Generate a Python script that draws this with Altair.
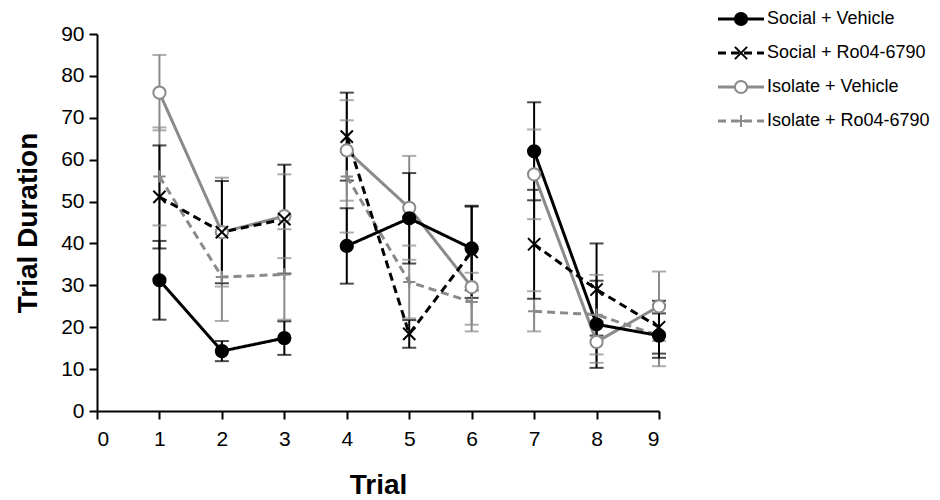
import altair as alt
import pandas as pd

series = ["Social + Vehicle", "Social + Ro04-6790", "Isolate + Vehicle", "Isolate + Ro04-6790"]
trials = [1, 2, 3, 4, 5, 6, 7, 8, 9]
blocks = [1, 1, 1, 2, 2, 2, 3, 3, 3]

social_veh = [31.2, 14.3, 17.4, 39.4, 46.0, 38.8, 62.0, 20.7, 18.0]
social_veh_err = [9.4, 2.4, 4.0, 9.0, 10.8, 10.0, 11.7, 10.4, 5.3]
social_ro = [51.1, 42.7, 45.8, 65.5, 18.4, 38.0, 39.8, 29.0, 20.0]
social_ro_err = [12.3, 12.2, 13.0, 10.5, 3.3, 11.0, 13.0, 11.0, 6.3]
isolate_veh = [76.0, 42.7, 46.5, 62.2, 48.5, 29.6, 56.5, 16.5, 25.0]
isolate_veh_err = [9.0, 13.0, 10.0, 12.0, 12.4, 9.0, 10.7, 5.0, 8.3]
isolate_ro = [56.0, 32.0, 32.6, 56.0, 30.8, 26.0, 23.8, 23.0, 18.0]
isolate_ro_err = [11.7, 10.5, 10.8, 13.4, 8.7, 7.0, 4.8, 9.5, 7.3]

means = [social_veh, social_ro, isolate_veh, isolate_ro]
errs = [social_veh_err, social_ro_err, isolate_veh_err, isolate_ro_err]

BLACK = "#000000"
GRAY = "#8a8a8a"
colors = [BLACK, BLACK, GRAY, GRAY]
fills = [BLACK, "transparent", "#ffffff", "transparent"]
dashes = [[1, 0], [8, 5], [1, 0], [8, 5]]
XPATH = "M-1,-1L1,1M-1,1L1,-1"
PLUS = "M-1,0L1,0M0,-1L0,1"
shapes = ["circle", XPATH, "circle", PLUS]
draw_order = [2, 3, 0, 1]  # gray series under black ones

rows = []
for k in draw_order:
    for t, b, m, e in zip(trials, blocks, means[k], errs[k]):
        rows.append({"series": series[k], "order": draw_order.index(k), "trial": t,
                     "block": b, "value": m, "lo": m - e, "hi": m + e})
df = pd.DataFrame(rows)
leg = pd.DataFrame({"series": series})

color_scale = alt.Scale(domain=series, range=colors)
fill_scale = alt.Scale(domain=series, range=fills)
dash_scale = alt.Scale(domain=series, range=dashes)
shape_scale = alt.Scale(domain=series, range=shapes)

xenc = alt.X("trial:Q", scale=alt.Scale(domain=[0, 9], nice=False),
             axis=alt.Axis(values=list(range(10)), format="d", title="Trial",
                           labelPadding=9, titlePadding=22))
yenc_axis = alt.Axis(values=list(range(0, 91, 10)), format="d", title="Trial Duration",
                     labelPadding=5, titlePadding=18)
yscale = alt.Scale(domain=[0, 90], nice=False)

base = alt.Chart(df)

err_rule = base.mark_rule(strokeWidth=2).encode(
    x=xenc,
    y=alt.Y("lo:Q", scale=yscale, axis=yenc_axis),
    y2="hi:Q",
    color=alt.Color("series:N", scale=color_scale, legend=None),
    order="order:Q",
)
cap_lo = base.mark_tick(orient="horizontal", size=14, thickness=2).encode(
    x="trial:Q", y="lo:Q",
    color=alt.Color("series:N", scale=color_scale, legend=None),
)
cap_hi = base.mark_tick(orient="horizontal", size=14, thickness=2).encode(
    x="trial:Q", y="hi:Q",
    color=alt.Color("series:N", scale=color_scale, legend=None),
)
lines = base.mark_line(strokeWidth=3).encode(
    x="trial:Q", y="value:Q",
    color=alt.Color("series:N", scale=color_scale, legend=None),
    strokeDash=alt.StrokeDash("series:N", scale=dash_scale, legend=None),
    detail="block:N",
)
points = base.mark_point(strokeWidth=2, opacity=1, size=150).encode(
    x="trial:Q", y="value:Q",
    stroke=alt.Stroke("series:N", scale=color_scale, legend=None),
    fill=alt.Fill("series:N", scale=fill_scale, legend=None),
    shape=alt.Shape("series:N", scale=shape_scale, legend=None),
    order="order:Q",
)

main = alt.layer(err_rule, cap_lo, cap_hi, lines, points)

legy = alt.Y("series:N", scale=alt.Scale(domain=series, range=[-32, 104]), axis=None)
lbase = alt.Chart(leg)
leg_line = lbase.mark_rule(strokeWidth=3).encode(
    x=alt.value(621), x2=alt.value(667), y=legy,
    color=alt.Color("series:N", scale=color_scale, legend=None),
    strokeDash=alt.StrokeDash("series:N", scale=dash_scale, legend=None),
)
leg_pt = lbase.mark_point(strokeWidth=2, opacity=1, size=150).encode(
    x=alt.value(644), y=legy,
    stroke=alt.Stroke("series:N", scale=color_scale, legend=None),
    fill=alt.Fill("series:N", scale=fill_scale, legend=None),
    shape=alt.Shape("series:N", scale=shape_scale, legend=None),
)
leg_txt = lbase.mark_text(align="left", baseline="middle", fontSize=18,
                          font="Liberation Sans", color="black").encode(
    x=alt.value(670), y=legy, text="series:N",
)
legend = alt.layer(leg_line, leg_pt, leg_txt)

chart = alt.layer(main, legend).resolve_scale(y="independent").properties(
    width=562, height=377, padding={"left": 6, "top": 0, "right": 0, "bottom": 0}
).configure_view(stroke=None).configure_axis(
    grid=False, domainColor="black", domainWidth=2, tickColor="black", tickWidth=2,
    tickSize=8, labelFont="Liberation Sans", labelFontSize=21, labelColor="black",
    titleFont="Liberation Sans", titleFontSize=28, titleFontWeight="bold", titleColor="black",
)

chart.save("out.html", embed_options={"renderer": "svg", "actions": False})
